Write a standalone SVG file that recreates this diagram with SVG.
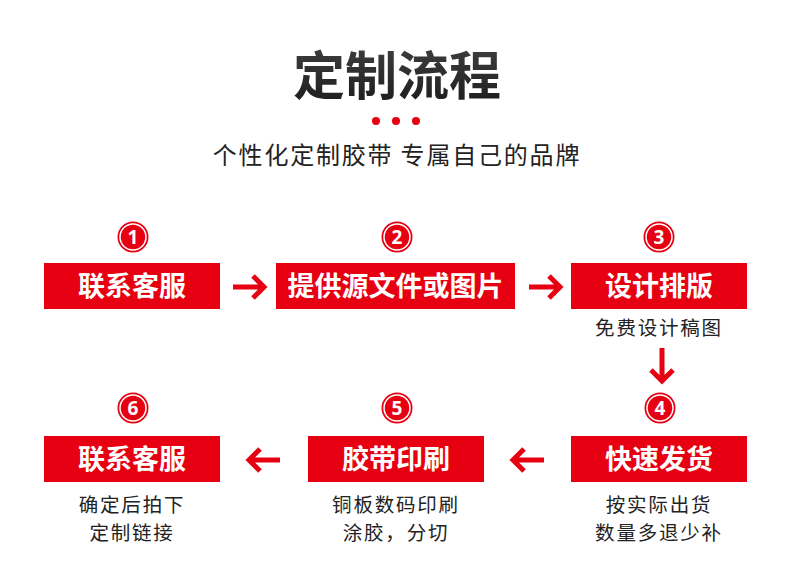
<svg xmlns="http://www.w3.org/2000/svg" width="790" height="564" viewBox="0 0 790 564">
<defs>
<linearGradient id="tg" x1="0" y1="0" x2="0" y2="1">
<stop offset="0" stop-color="#444"/>
<stop offset="1" stop-color="#1a1a1a"/>
</linearGradient>
<style>
.box{fill:#e60012}
.bt{font-family:"Noto Sans CJK SC","Noto Sans",sans-serif;font-size:27px;font-weight:bold;fill:#fff;text-anchor:middle}
.num{font-family:"Noto Sans","Liberation Sans",sans-serif;font-size:19px;font-weight:bold;fill:#fff;text-anchor:middle}
.ring{fill:none;stroke:#fff;stroke-width:1.5}
.desc{font-family:"Noto Sans CJK SC","Noto Sans",sans-serif;font-size:19.5px;letter-spacing:1.8px;fill:#222;text-anchor:middle}
.arr{fill:none;stroke:#e60012;stroke-width:5}
</style>
</defs>
<rect width="790" height="564" fill="#fff"/>
<text x="397" y="95" font-family="Noto Sans CJK SC,sans-serif" font-size="52" font-weight="bold" fill="url(#tg)" text-anchor="middle">定制流程</text>
<g fill="#e60012">
<circle cx="376" cy="121" r="4"/>
<circle cx="396" cy="121" r="4"/>
<circle cx="416" cy="121" r="4"/>
</g>
<text x="397" y="164" font-family="Noto Sans CJK SC,sans-serif" font-size="24" letter-spacing="1.8" fill="#222" text-anchor="middle">个性化定制胶带 专属自己的品牌</text>

<g id="step1">
<circle cx="133" cy="237" r="15.5" fill="#e60012"/><circle cx="133" cy="237" r="13" class="ring"/>
<text x="133" y="244" class="num">1</text>
<rect x="44" y="263" width="176" height="46" class="box"/>
<text x="132" y="296" class="bt">联系客服</text>
</g>
<g id="step2">
<circle cx="397" cy="237" r="15.5" fill="#e60012"/><circle cx="397" cy="237" r="13" class="ring"/>
<text x="397" y="244" class="num">2</text>
<rect x="276" y="263" width="239" height="46" class="box"/>
<text x="395.5" y="296" class="bt">提供源文件或图片</text>
</g>
<g id="step3">
<circle cx="659" cy="237" r="15.5" fill="#e60012"/><circle cx="659" cy="237" r="13" class="ring"/>
<text x="659" y="244" class="num">3</text>
<rect x="571" y="263" width="176" height="46" class="box"/>
<text x="659" y="296" class="bt">设计排版</text>
<text x="659" y="335" class="desc">免费设计稿图</text>
</g>
<g id="step4">
<circle cx="660" cy="408" r="15.5" fill="#e60012"/><circle cx="660" cy="408" r="13" class="ring"/>
<text x="660" y="415" class="num">4</text>
<rect x="571" y="436" width="176" height="46" class="box"/>
<text x="659" y="469" class="bt">快速发货</text>
<text x="659" y="512" class="desc">按实际出货</text>
<text x="659" y="540" class="desc">数量多退少补</text>
</g>
<g id="step5">
<circle cx="397" cy="408" r="15.5" fill="#e60012"/><circle cx="397" cy="408" r="13" class="ring"/>
<text x="397" y="415" class="num">5</text>
<rect x="308" y="436" width="176" height="46" class="box"/>
<text x="396" y="469" class="bt">胶带印刷</text>
<text x="396" y="512" class="desc">铜板数码印刷</text>
<text x="396" y="540" class="desc">涂胶，分切</text>
</g>
<g id="step6">
<circle cx="133" cy="408" r="15.5" fill="#e60012"/><circle cx="133" cy="408" r="13" class="ring"/>
<text x="133" y="415" class="num">6</text>
<rect x="44" y="436" width="176" height="46" class="box"/>
<text x="132" y="469" class="bt">联系客服</text>
<text x="132" y="512" class="desc">确定后拍下</text>
<text x="132" y="540" class="desc">定制链接</text>
</g>

<g id="connectors">
<path class="arr" d="M233 287H263M253 276L264 287L253 298"/>
<path class="arr" d="M529 287H559M549 276L560 287L549 298"/>
<path class="arr" d="M662 348V380M651 370L662 381L673 370"/>
<path class="arr" d="M544 460H514M524 449L513 460L524 471"/>
<path class="arr" d="M280 460H250M260 449L249 460L260 471"/>
</g>
</svg>
